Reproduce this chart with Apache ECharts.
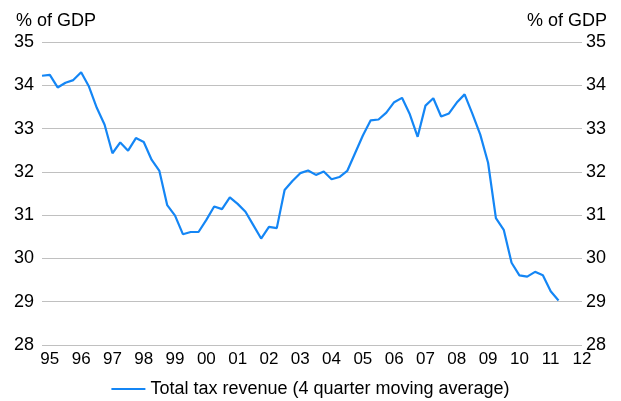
<!DOCTYPE html>
<html>
<head>
<meta charset="utf-8">
<script src="https://cdn.jsdelivr.net/npm/echarts@6/dist/echarts.min.js"></script>
<style>
  html, body { margin: 0; padding: 0; background: #fff; }
  #chart { width: 621px; height: 401px; }
</style>
</head>
<body>
<div id="chart"></div>
<script>
// year labels on the x axis (one per year, last one is the axis end)
const yearLabels = ['95', '96', '97', '98', '99', '00', '01', '02', '03', '04',
  '05', '06', '07', '08', '09', '10', '11', '12'];

// y axis ticks
const yMin = 28;
const yMax = 35;

// total tax revenue, % of GDP, 4 quarter moving average, from 95 Q1
const taxRevenue = [
  34.22, 34.24, 33.95, 34.06, 34.12, 34.30, 33.97, 33.48,
  33.09, 32.43, 32.68, 32.49, 32.78, 32.69, 32.28, 32.02,
  31.23, 30.99, 30.56, 30.61, 30.61, 30.89, 31.20, 31.14,
  31.41, 31.26, 31.08, 30.77, 30.46, 30.73, 30.70, 31.58,
  31.79, 31.97, 32.03, 31.93, 32.01, 31.83, 31.88, 32.02,
  32.43, 32.84, 33.19, 33.21, 33.37, 33.61, 33.71, 33.33,
  32.81, 33.53, 33.70, 33.28, 33.35, 33.60, 33.79, 33.34,
  32.86, 32.21, 30.93, 30.66, 29.90, 29.61, 29.58, 29.69,
  29.61, 29.24, 29.03
];

// quarterly categories; the axis runs to 12 Q2
const categories = [];
yearLabels.forEach((y, i) => {
  const n = i < yearLabels.length - 1 ? 4 : 2;
  for (let q = 1; q <= n; q++) categories.push(y + ' Q' + q);
});

const chart = echarts.init(document.getElementById('chart'));
const font = 'Liberation Sans, Arial, sans-serif';

const option = {
  animation: false,
  textStyle: { fontFamily: font, color: '#000' },
  grid: { left: 42, right: 39, top: 42, bottom: 56 },
  graphic: [
    { type: 'text', left: 16, top: 12,
      style: { text: '% of GDP', font: '18px ' + font, fill: '#000' } },
    { type: 'text', right: 14, top: 12,
      style: { text: '% of GDP', font: '18px ' + font, fill: '#000' } }
  ],
  legend: {
    bottom: -2,
    icon: 'rect',
    itemWidth: 34,
    itemHeight: 2,
    itemGap: 10,
    textStyle: { fontSize: 18, fontFamily: font, color: '#000' },
    data: ['Total tax revenue (4 quarter moving average)']
  },
  xAxis: {
    type: 'category',
    boundaryGap: false,
    data: categories,
    axisLine: { show: false },
    axisTick: { show: false },
    axisLabel: {
      interval: (i) => i % 4 === 1,
      formatter: (v) => v.split(' ')[0],
      fontSize: 17,
      margin: 6,
      color: '#000'
    },
    splitLine: { show: false }
  },
  yAxis: [
    {
      type: 'value', min: yMin, max: yMax, interval: 1,
      axisLine: { show: false },
      axisTick: { show: false },
      axisLabel: { fontSize: 18, margin: 8, color: '#000' },
      splitLine: { lineStyle: { color: '#c0c0c0', width: 1 } }
    },
    {
      type: 'value', min: yMin, max: yMax, interval: 1, position: 'right',
      axisLine: { show: false },
      axisTick: { show: false },
      axisLabel: { fontSize: 18, margin: 4, color: '#000' },
      splitLine: { show: false }
    }
  ],
  series: [
    {
      name: 'Total tax revenue (4 quarter moving average)',
      type: 'line',
      data: taxRevenue,
      symbol: 'none',
      color: '#1486f5',
      lineStyle: { width: 2.2, color: '#1486f5' }
    }
  ]
};

chart.setOption(option);
</script>
</body>
</html>
